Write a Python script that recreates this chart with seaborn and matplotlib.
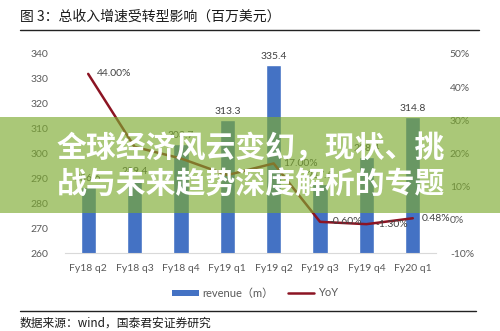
import matplotlib
matplotlib.use("Agg")
import matplotlib.pyplot as plt
from matplotlib.patches import Rectangle, Patch
from matplotlib.lines import Line2D
import seaborn as sns
import pandas as pd
import numpy as np

# quarterly revenue (million USD) and year-over-year growth (%)
quarters = ["Fy18 q2", "Fy18 q3", "Fy18 q4", "Fy19 q1", "Fy19 q2", "Fy19 q3", "Fy19 q4", "Fy20 q1"]
revenue = [286.6, 289.4, 303.7, 313.3, 335.4, 287.6, 298.4, 314.8]
yoy = [44.00, 22.0, 18.5, 13.5, 17.00, -0.60, -1.30, 0.48]
yoy_labelled = [True, False, False, False, True, True, True, True]

left_ticks = [260, 270, 280, 290, 300, 310, 320, 330, 340]
right_ticks = [-10, 0, 10, 20, 30, 40, 50]

title_text = "图 3：总收入增速受转型影响（百万美元）"
source_text = "数据来源：wind，国泰君安证券研究"
banner_lines = ["全球经济风云变幻，现状、挑", "战与未来趋势深度解析的专题"]

sns.set_theme(style="white")
plt.rcParams["font.family"] = ["Lato", "Noto Sans CJK SC", "DejaVu Sans"]

BAR_BLUE = "#4472C4"
LINE_RED = "#8C1423"
TICK_GREY = "#595959"

df = pd.DataFrame({"quarter": quarters, "revenue": revenue, "yoy": yoy})
df["pos"] = np.arange(len(df))

fig = plt.figure(figsize=(5.0, 3.31), dpi=100)
ax = fig.add_axes([0.130, 0.2356, 0.742, 0.6013])

sns.barplot(data=df, x="quarter", y="revenue", color=BAR_BLUE, width=0.33,
            saturation=1, ax=ax, zorder=2)
ax.set_ylim(260, 340)
ax.set_xlim(-0.5, len(df) - 0.5)
ax.set_yticks(left_ticks)
ax.set_xlabel("")
ax.set_ylabel("")
ax.tick_params(axis="both", length=0, labelsize=7.5, labelcolor=TICK_GREY)
ax.tick_params(axis="y", pad=12)
ax.tick_params(axis="x", pad=8)
for side in ["left", "right", "top"]:
    ax.spines[side].set_visible(False)
ax.spines["bottom"].set_color("#D9D9D9")
ax.spines["bottom"].set_linewidth(0.8)

for cont in ax.containers:
    ax.bar_label(cont, fmt="%.1f", padding=3, fontsize=7.5, color="#404040")

ax2 = ax.twinx()
sns.lineplot(data=df, x="pos", y="yoy", color=LINE_RED, linewidth=1.8, ax=ax2,
             zorder=3)
ax2.set_ylim(-10, 50)
ax2.set_yticks(right_ticks)
ax2.set_yticklabels([f"{t}%" for t in right_ticks])
ax2.set_xlim(-0.5, len(df) - 0.5)
ax2.set_ylabel("")
ax2.set_xlabel("")
ax2.tick_params(axis="y", length=0, labelsize=7.5, labelcolor=TICK_GREY, pad=10)
for side in ["left", "right", "top", "bottom"]:
    ax2.spines[side].set_visible(False)

for p, v, show in zip(df["pos"], df["yoy"], yoy_labelled):
    if show:
        ax2.annotate(f"{v:.2f}%", (p, v), xytext=(9, 0), textcoords="offset pixels",
                     ha="left", va="center", fontsize=7.5, color="#404040")

handles = [Patch(facecolor=BAR_BLUE, edgecolor="none"),
           Line2D([0], [0], color=LINE_RED, linewidth=1.8)]
fig.legend(handles, ["revenue（m）", "YoY"], loc="center", ncol=2,
           bbox_to_anchor=(0.51, 1 - 293 / 331), frameon=False, fontsize=8,
           handlelength=2.4, handleheight=0.45, columnspacing=1.3,
           handletextpad=0.3, labelcolor=TICK_GREY)

# report header and source line
fig.text(0.040, 1 - 17 / 331, title_text, fontsize=10, color="#1A1A1A",
         family=["Noto Sans CJK SC", "DejaVu Sans"], va="center", ha="left")
fig.add_artist(Line2D([0.040, 0.958], [1 - 30 / 331] * 2, color="#222222",
                      linewidth=1.0, transform=fig.transFigure))
fig.add_artist(Line2D([0.040, 0.952], [1 - 311 / 331] * 2, color="#222222",
                      linewidth=1.0, transform=fig.transFigure))
fig.text(0.040, 1 - 323 / 331, source_text, fontsize=8.5, color="#1A1A1A",
         family=["Noto Sans CJK SC", "DejaVu Sans"], va="center", ha="left")

# translucent headline band across the chart
band = Rectangle((0, 1 - 213 / 331), 1, 96 / 331, transform=fig.transFigure,
                 facecolor=(125 / 255, 171 / 255, 48 / 255), alpha=0.65,
                 edgecolor="none", zorder=10)
fig.add_artist(band)
for yy, line in zip([148, 185], banner_lines):
    fig.text(0.502, 1 - yy / 331, line, fontsize=21.5, fontweight="bold",
             color="white", family=["Noto Sans CJK SC", "DejaVu Sans"],
             ha="center", va="center", zorder=11)

fig.savefig("out.png", dpi=100)
